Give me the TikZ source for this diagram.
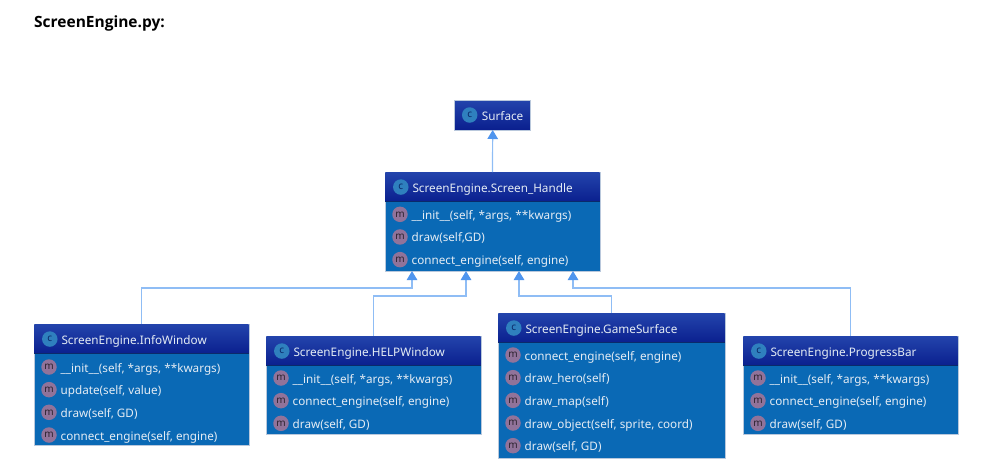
\documentclass[tikz,border=0pt]{standalone}
\usepackage{fontspec}
\setmainfont{Open Sans}
\newfontfamily\umlfont{Noto Sans}
\usetikzlibrary{arrows.meta,calc}
\definecolor{bodyblue}{HTML}{0A69B5}
\definecolor{headtop}{HTML}{2344AC}
\definecolor{headbot}{HTML}{0A1F8E}
\definecolor{headline}{HTML}{0A2A6A}
\definecolor{edgeline}{HTML}{8FBDF5}
\definecolor{edgetip}{HTML}{4F95EE}
\definecolor{boxline}{HTML}{B9C8DC}
\definecolor{iconc}{HTML}{2F80BE}
\definecolor{iconm}{HTML}{91739A}
\definecolor{txt}{HTML}{E4ECF4}
\tikzset{
  x=1pt,y=-1pt,
  classbody/.style={draw=boxline,line width=.6pt,fill=bodyblue,inner sep=0pt,outer sep=0pt,anchor=north west},
  classhead/.style={draw=none,top color=headtop,bottom color=headbot,inner sep=0pt,outer sep=0pt,anchor=north west},
  classtitle/.style={font=\umlfont\fontsize{11.75}{14}\selectfont,text=txt,anchor=base west,inner sep=0pt},
  rowtext/.style={font=\umlfont\fontsize{11.7}{14}\selectfont,text=txt,anchor=base west,inner sep=0pt},
  iconC/.style={circle,fill=iconc,minimum size=15.5pt,inner sep=0pt,text=headline,font=\umlfont\fontsize{10}{10}\selectfont},
  iconM/.style={circle,fill=iconm,minimum size=15.5pt,inner sep=0pt,text=black!70!iconm,font=\umlfont\fontsize{10}{10}\selectfont},
  inherit/.style={draw=edgeline,line width=1.2pt,-{Triangle[length=9pt,width=10.5pt,fill=edgetip,color=edgetip]}},
}
% name, left, top, width, height, head height, title, rows first y, rows
\newcommand{\umlclass}[9]{%
  \node[classbody,minimum width=#4pt,minimum height=#5pt] (#1) at (#2,#3) {};
  \node[classhead,minimum width=#4pt-.6pt,minimum height=#6pt] (#1-head) at ($(#2,#3)+(.3,.3)$) {};
  \draw[headline,line width=.8pt] (#1-head.south west) -- (#1-head.south east);
  \node[iconC] (#1-c) at ($(#1-head.west)+(15.5,0)$) {c};
  \node[classtitle] (#1-title) at ($(#1-head.west)+(27,5)$) {#7};
  \foreach \t [count=\i from 0] in {#9} {
    \node[iconM] (#1-m\i) at ($(#2,#8)+(15,22.67*\i)$) {m};
    \node[rowtext] (#1-r\i) at ($(#2,#8)+(26.5,22.67*\i+5)$) {\t};
  }
}
\begin{document}
\begin{tikzpicture}
\useasboundingbox (0,0) rectangle (986,472);
\node[font=\fontsize{15.5}{18}\selectfont\bfseries,anchor=base west,inner sep=0pt] (title) at (34,27.5) {ScreenEngine.py:};
% Surface
\node[classhead,draw=boxline,line width=.6pt,minimum width=76pt,minimum height=30pt] (surface) at (454.7,100) {};
\node[iconC] (surface-c) at ($(surface.west)+(15,0)$) {c};
\node[classtitle] (surface-title) at ($(surface.west)+(27,5)$) {Surface};
\umlclass{handle}{385}{172}{215}{99}{29.5}{ScreenEngine.Screen\_Handle}{214.3}{{\_\_init\_\_(self, *args, **kwargs)},{draw(self,GD)},{connect\_engine(self, engine)}}
\umlclass{info}{34}{324}{215}{121}{29.5}{ScreenEngine.InfoWindow}{367}{{\_\_init\_\_(self, *args, **kwargs)},{update(self, value)},{draw(self, GD)},{connect\_engine(self, engine)}}
\umlclass{help}{266}{336}{215}{98}{29.5}{ScreenEngine.HELPWindow}{378}{{\_\_init\_\_(self, *args, **kwargs)},{connect\_engine(self, engine)},{draw(self, GD)}}
\umlclass{game}{498}{313}{227}{145}{29.5}{ScreenEngine.GameSurface}{355}{{connect\_engine(self, engine)},{draw\_hero(self)},{draw\_map(self)},{draw\_object(self, sprite, coord)},{draw(self, GD)}}
\umlclass{bar}{743}{336}{215}{98}{29.5}{ScreenEngine.ProgressBar}{378}{{\_\_init\_\_(self, *args, **kwargs)},{connect\_engine(self, engine)},{draw(self, GD)}}
% connectors
\draw[inherit] (handle.north) -- (surface.south);
\draw[inherit] (info.north) |- ($(handle.south west)+(27,17)$) -- ($(handle.south west)+(27,0)$);
\draw[inherit] (help.north) |- ($(handle.south west)+(81,25)$) -- ($(handle.south west)+(81,0)$);
\draw[inherit] (game.north) |- ($(handle.south west)+(134,25)$) -- ($(handle.south west)+(134,0)$);
\draw[inherit] (bar.north) |- ($(handle.south west)+(188,17)$) -- ($(handle.south west)+(188,0)$);
\end{tikzpicture}
\end{document}
